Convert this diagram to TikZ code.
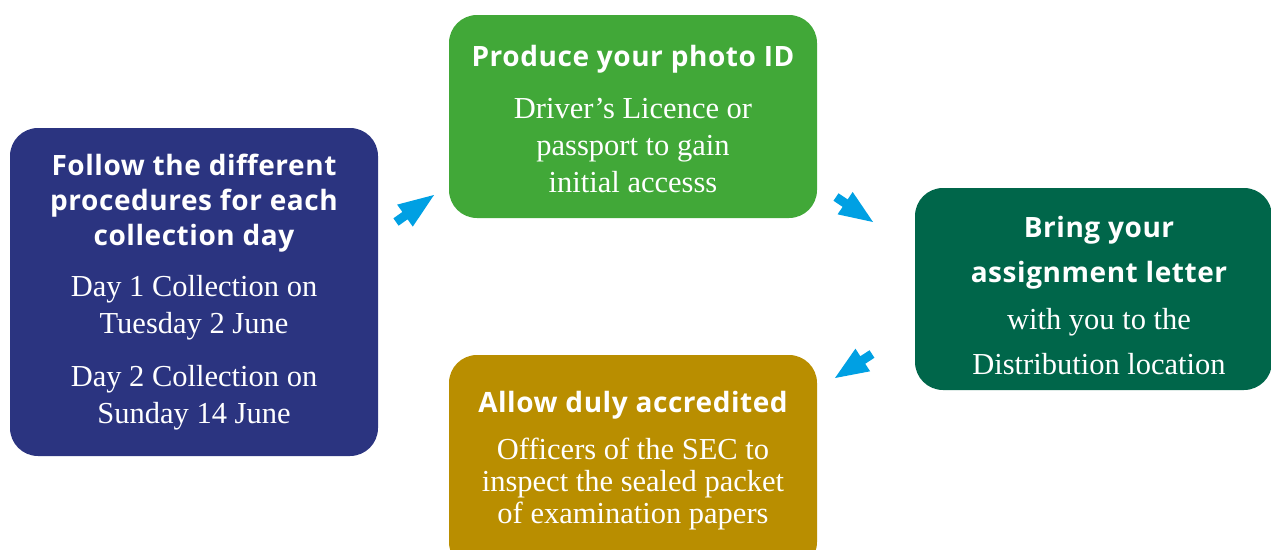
\documentclass[tikz,border=0pt]{standalone}
\usepackage{fontspec}
\setmainfont{Liberation Serif}
\newfontfamily\headfont[LetterSpace=2.0]{Open Sans}
\usetikzlibrary{calc}
\definecolor{navybox}{RGB}{43,52,128}
\definecolor{greenbox}{RGB}{65,168,56}
\definecolor{darkgreenbox}{RGB}{0,102,74}
\definecolor{goldbox}{RGB}{185,142,0}
\definecolor{arrowblue}{RGB}{0,160,227}
\tikzset{
  box/.style={rectangle, rounded corners=28pt, inner sep=0pt, draw=none},
  head/.style={text=white, font=\headfont\bfseries\fontsize{28}{35}\selectfont, align=center, inner sep=0pt},
  body/.style={text=white, font=\fontsize{30.5}{37}\selectfont, align=center, inner sep=0pt},
  blockarr/.style={fill=arrowblue, draw=none}
}
\newcommand\blockarrow[2]{%
  \fill[blockarr] ($(#1)!4.5pt!90:(#2)$) -- ($(#1)!11pt!(#2)!4.5pt!90:(#2)$)
    -- ($(#1)!11pt!(#2)!13.5pt!90:(#2)$) -- (#2)
    -- ($(#1)!11pt!(#2)!13.5pt!-90:(#2)$) -- ($(#1)!11pt!(#2)!4.5pt!-90:(#2)$)
    -- ($(#1)!4.5pt!-90:(#2)$) -- cycle;}
\begin{document}
\begin{tikzpicture}[x=1pt,y=-1pt]
\useasboundingbox (0,0) rectangle (1271,549);
\clip (0,0) rectangle (1271,549);
% boxes
\node[box, fill=navybox, minimum width=368pt, minimum height=328pt] (b1) at (194,292) {};
\node[box, fill=greenbox, minimum width=368pt, minimum height=203pt] (b2) at (633,116.5) {};
\node[box, fill=darkgreenbox, minimum width=357pt, minimum height=202pt] (b3) at (1093.5,289) {};
\node[box, fill=goldbox, minimum width=368pt, minimum height=215pt] (b4) at (633,462.5) {};
% texts
\node[head] (t1h) at (194,203) {Follow the different\\procedures for each\\collection day};
\node[body] (t1a) at (194,308) {Day 1 Collection on\\Tuesday 2 June};
\node[body] (t1b) at (194,398) {Day 2 Collection on\\Sunday 14 June};
\node[head] (t2h) at (633,59) {Produce your photo ID};
\node[body] (t2b) at (633,146) {Driver’s Licence or\\passport to gain\\initial accesss};
\node[head, font=\headfont\bfseries\fontsize{28}{45}\selectfont] (t3h) at (1099,252.5) {Bring your\\assignment letter};
\node[body, font=\fontsize{30.5}{45}\selectfont] (t3b) at (1099,341.5) {with you to the\\Distribution location};
\node[head] (t4h) at (633,405) {Allow duly accredited};
\node[body, font=\fontsize{30.5}{32}\selectfont] (t4b) at (633,484.5) {Officers of the SEC to\\inspect the sealed packet\\of examination papers};
% arrows
\coordinate (a1t) at (396,222); \coordinate (a1h) at (434,195);
\coordinate (a2t) at (836,197); \coordinate (a2h) at (873,222);
\coordinate (a3t) at (872,354); \coordinate (a3h) at (835,378);
\blockarrow{a1t}{a1h}
\blockarrow{a2t}{a2h}
\blockarrow{a3t}{a3h}
\end{tikzpicture}
\end{document}
